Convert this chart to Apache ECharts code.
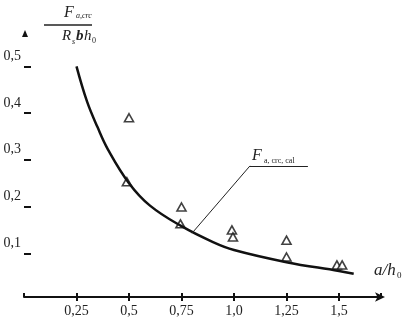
<!DOCTYPE html>
<html><head><meta charset="utf-8">
<script src="https://cdn.jsdelivr.net/npm/echarts@6/dist/echarts.min.js"></script>
<style>html,body{margin:0;padding:0;background:#fff}#c{width:405px;height:319px}</style>
</head><body><div id="c"></div>
<script>
// Design curve F_a,crc,cal
var curveX = [0.25, 0.3, 0.35, 0.4, 0.5, 0.6, 0.75, 0.9, 1.0, 1.25, 1.5, 1.57];
var curveY = [0.5, 0.425, 0.37, 0.322, 0.25, 0.202, 0.158, 0.124, 0.107, 0.081, 0.062, 0.056];
// Experimental points
var expX = [0.5, 0.49, 0.75, 0.745, 0.99, 0.995, 1.25, 1.25, 1.49, 1.515];
var expY = [0.39, 0.253, 0.199, 0.163, 0.15, 0.135, 0.128, 0.092, 0.075, 0.075];
// Ticks
var xTickValues = [0.25, 0.5, 0.75, 1.0, 1.25, 1.5];
var xTickLabels = ['0,25', '0,5', '0,75', '1,0', '1,25', '1,5'];
var yTickValues = [0.1, 0.2, 0.3, 0.4, 0.5];
var yTickLabels = ['0,1', '0,2', '0,3', '0,4', '0,5'];
// Leader line of the curve label (data coordinates)
var leaderX = [0.8, 1.076, 1.352];
var leaderY = [0.143, 0.287, 0.287];

var FONT = 'Liberation Serif';
function fmt(vals, labels) {
  return function (v) {
    for (var i = 0; i < vals.length; i++) if (Math.abs(vals[i] - v) < 1e-6) return labels[i];
    return '';
  };
}
var chart = echarts.init(document.getElementById('c'), null, {renderer: 'canvas'});
var curve = curveX.map(function (x, i) { return [x, curveY[i]]; });
var pts = expX.map(function (x, i) { return [x, expY[i]]; });
chart.setOption({
  animation: false,
  backgroundColor: '#fff',
  grid: {left: 24, right: 24, top: 43, bottom: 19},
  xAxis: [{
    type: 'value', min: 0, max: 1.7, interval: 0.25, offset: -3,
    splitLine: {show: false},
    axisLine: {show: true, symbol: ['none', 'arrow'], symbolSize: [7, 10], symbolOffset: [0, 4],
      lineStyle: {color: '#111', width: 2}},
    axisTick: {show: true, inside: false, length: 4, lineStyle: {color: '#111', width: 2}},
    axisLabel: {formatter: fmt(xTickValues, xTickLabels), margin: 7, color: '#222',
      fontFamily: FONT, fontSize: 14, showMinLabel: false, showMaxLabel: false}
  }, {
    type: 'value', min: 0, max: 1.7, interval: 0.25, offset: -3, position: 'bottom',
    splitLine: {show: false}, axisLine: {show: false},
    axisTick: {show: true, inside: true, length: 4, lineStyle: {color: '#111', width: 2}},
    axisLabel: {show: false}
  }],
  yAxis: {
    type: 'value', min: 0, max: 0.55, interval: 0.1,
    splitLine: {show: false}, axisLine: {show: false},
    axisTick: {show: true, inside: true, length: 7, lineStyle: {color: '#111', width: 2}},
    axisLabel: {formatter: fmt(yTickValues, yTickLabels), margin: 3, color: '#222',
      fontFamily: FONT, fontSize: 14, verticalAlign: 'bottom', padding: [0, 0, 3, 0],
      showMinLabel: false, showMaxLabel: false}
  },
  series: [{
    type: 'line', data: curve, smooth: 0.4, showSymbol: false, symbol: 'none',
    lineStyle: {color: '#111', width: 2.5},
    markLine: {
      silent: true, symbol: 'none', animation: false,
      lineStyle: {color: '#222', width: 1, type: 'solid'},
      label: {show: false},
      data: [
        [{coord: [leaderX[0], leaderY[0]]}, {coord: [leaderX[1], leaderY[1]]}],
        [{coord: [leaderX[1], leaderY[1]]}, {coord: [leaderX[2], leaderY[2]]}]
      ]
    }
  }, {
    type: 'scatter', data: pts, symbol: 'triangle', symbolSize: [9, 8],
    itemStyle: {color: '#fff', borderColor: '#111', borderWidth: 1.6}
  }],
  graphic: [
    // y-axis arrow head
    {type: 'polygon', shape: {points: [[25, 30], [22, 37], [28, 37]]}, style: {fill: '#111'}},
    // fraction title
    {type: 'line', shape: {x1: 44, y1: 25, x2: 92, y2: 25}, style: {stroke: '#222', lineWidth: 1.5}},
    {type: 'text', left: 64, top: 5, style: {text: 'F', font: 'italic 16px "Liberation Serif"', fill: '#222'}},
    {type: 'text', left: 76, top: 12, style: {text: 'a,crc', font: 'italic 8px "Liberation Serif"', fill: '#222'}},
    {type: 'text', left: 62, top: 29, style: {text: 'R', font: 'italic 15px "Liberation Serif"', fill: '#222'}},
    {type: 'text', left: 72, top: 38, style: {text: 's', font: 'italic 8px "Liberation Serif"', fill: '#222'}},
    {type: 'text', left: 76, top: 29, style: {text: 'b', font: 'italic bold 15px "Liberation Serif"', fill: '#222'}},
    {type: 'text', left: 84, top: 29, style: {text: 'h', font: 'italic 15px "Liberation Serif"', fill: '#222'}},
    {type: 'text', left: 92, top: 37, style: {text: '0', font: '8px "Liberation Serif"', fill: '#222'}},
    // x-axis name
    {type: 'text', left: 374, top: 262, style: {text: 'a/h', font: 'italic 17px "Liberation Serif"', fill: '#222'}},
    {type: 'text', left: 397, top: 271, style: {text: '0', font: '9px "Liberation Serif"', fill: '#222'}},
    // curve label
    {type: 'text', left: 252, top: 148, style: {text: 'F', font: 'italic 16px "Liberation Serif"', fill: '#222'}},
    {type: 'text', left: 264, top: 157, style: {text: 'a, crc, cal', font: '8px "Liberation Serif"', fill: '#222'}}
  ]
});
</script></body></html>
